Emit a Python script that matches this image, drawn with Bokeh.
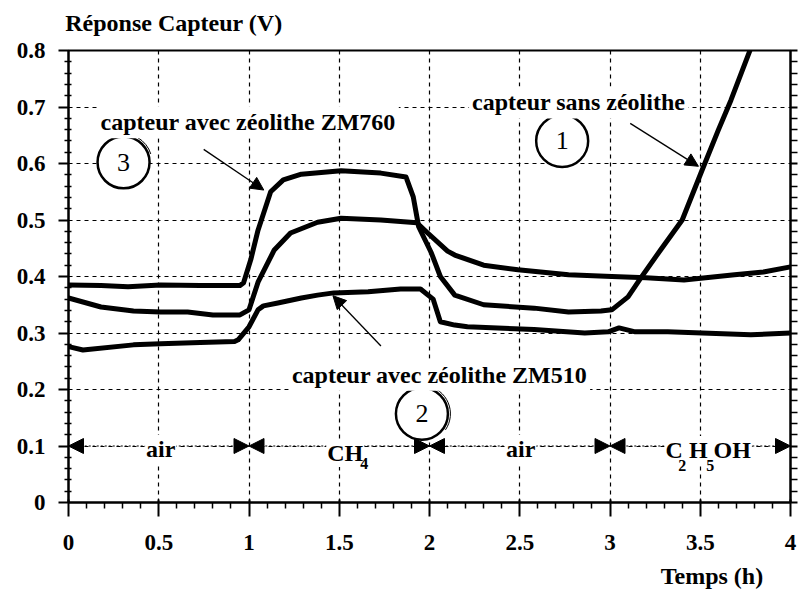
from bokeh.plotting import figure
from bokeh.models import (Range1d, LinearAxis, FixedTicker, Label,
                          ColumnDataSource, Arrow, NormalHead)
from bokeh.core.properties import value
from bokeh.embed import file_html
from bokeh.resources import INLINE

FONT = "Liberation Serif"

# ---------------- data ----------------
# top curve before CH4 (ZM760), then rising with ethanol
time_zm760 = [0, 0.18, 0.33, 0.51, 0.73, 0.95, 0.97, 1.01, 1.05, 1.12, 1.19, 1.29, 1.51,
              1.73, 1.87, 1.91, 1.94, 2.01, 2.06, 2.14, 2.30, 2.58, 2.77, 2.95, 3.01,
              3.10, 3.17, 3.28, 3.40, 3.51, 3.60, 3.67, 3.78]
resp_zm760 = [0.385, 0.384, 0.382, 0.385, 0.384, 0.384, 0.389, 0.43, 0.482, 0.55, 0.571,
              0.581, 0.587, 0.583, 0.576, 0.541, 0.488, 0.442, 0.40, 0.367, 0.35, 0.344,
              0.337, 0.339, 0.341, 0.364, 0.397, 0.447, 0.50, 0.588, 0.659, 0.712, 0.804]

# middle curve
time_mid = [0, 0.18, 0.36, 0.51, 0.66, 0.80, 0.95, 1.00, 1.05, 1.14, 1.23, 1.38, 1.51,
            1.73, 1.93, 1.99, 2.10, 2.14, 2.30, 2.49, 2.77, 3.01, 3.20, 3.41, 3.69, 3.85, 4.0]
resp_mid = [0.362, 0.346, 0.339, 0.337, 0.337, 0.332, 0.332, 0.341, 0.39, 0.447, 0.477,
            0.496, 0.503, 0.50, 0.495, 0.477, 0.445, 0.438, 0.42, 0.412, 0.403, 0.40,
            0.398, 0.394, 0.403, 0.408, 0.417]

# bottom curve : capteur avec zeolithe ZM510
time_zm510 = [0, 0.08, 0.36, 0.51, 0.73, 0.92, 0.94, 1.00, 1.05, 1.08, 1.16, 1.29, 1.38,
              1.47, 1.66, 1.84, 1.95, 2.02, 2.06, 2.14, 2.21, 2.58, 2.86, 2.99, 3.05,
              3.14, 3.32, 3.51, 3.78, 4.0]
resp_zm510 = [0.276, 0.27, 0.279, 0.281, 0.283, 0.285, 0.288, 0.311, 0.341, 0.348, 0.353,
              0.362, 0.367, 0.371, 0.373, 0.378, 0.378, 0.36, 0.32, 0.314, 0.311, 0.306,
              0.30, 0.302, 0.309, 0.302, 0.302, 0.30, 0.297, 0.30]

x_ticks = [0, 0.5, 1, 1.5, 2, 2.5, 3, 3.5, 4]
x_tick_labels = ["0", "0.5", "1", "1.5", "2", "2.5", "3", "3.5", "4"]
x_minor_ticks = [0.1, 0.2, 0.3, 0.4, 0.6, 0.7, 0.8, 0.9, 1.1, 1.2, 1.3, 1.4, 1.6, 1.7,
                 1.8, 1.9, 2.1, 2.2, 2.3, 2.4, 2.6, 2.7, 2.8, 2.9, 3.1, 3.2, 3.3, 3.4,
                 3.6, 3.7, 3.8, 3.9]
y_ticks = [0, 0.1, 0.2, 0.3, 0.4, 0.5, 0.6, 0.7, 0.8]
y_tick_labels = ["0", "0.1", "0.2", "0.3", "0.4", "0.5", "0.6", "0.7", "0.8"]
y_minor_ticks = [round(0.02 * i, 2) for i in range(41) if i % 5]

y_title = "Réponse Capteur (V)"
x_title = "Temps (h)"

phase_bounds = [0, 1, 2, 3, 4]
phase_level = 0.1

circle_numbers = ["3", "1", "2"]
circle_x = [0.305, 2.735, 1.958]
circle_y = [0.602, 0.64, 0.157]

# ---------------- figure ----------------
p = figure(width=798, height=591, x_range=Range1d(0, 4), y_range=Range1d(0, 0.8),
           output_backend="svg", toolbar_location=None,
           min_border_left=68, min_border_right=8, min_border_top=50,
           min_border_bottom=88)
p.background_fill_color = "white"
p.border_fill_color = "white"
p.outline_line_color = "black"
p.outline_line_width = 2

for g, t in ((p.xgrid, x_ticks), (p.ygrid, y_ticks)):
    g.ticker = FixedTicker(ticks=t)
    g.grid_line_color = "black"
    g.grid_line_dash = "4 4"
    g.grid_line_width = 1.2

blank_y = {t: "" for t in y_ticks}

xa = p.xaxis[0]
xa.ticker = FixedTicker(ticks=x_ticks, minor_ticks=x_minor_ticks)
xa.axis_line_width = 2
xa.major_tick_out = 14
xa.major_tick_in = 3
xa.minor_tick_out = 6
xa.minor_tick_in = 0
xa.major_tick_line_width = 2
xa.minor_tick_line_width = 1.5
xa.major_tick_line_color = "black"
xa.minor_tick_line_color = "black"
xa.major_label_overrides = dict(zip(x_ticks, x_tick_labels))
xa.major_label_standoff = 18
xa.major_label_text_font = FONT
xa.major_label_text_font_style = "bold"
xa.major_label_text_font_size = "23px"
xa.major_label_text_color = "black"

ya = p.yaxis[0]
ya.ticker = FixedTicker(ticks=y_ticks, minor_ticks=y_minor_ticks)
ya.axis_line_width = 2
ya.major_tick_out = 10
ya.major_tick_in = 0
ya.minor_tick_out = 4
ya.minor_tick_in = 3
ya.major_tick_line_width = 2
ya.minor_tick_line_width = 1.5
ya.major_label_overrides = dict(zip(y_ticks, y_tick_labels))
ya.major_label_text_font = FONT
ya.major_label_text_font_style = "bold"
ya.major_label_text_font_size = "23px"
ya.major_label_text_color = "black"
ya.major_label_standoff = 13

ra = LinearAxis(ticker=FixedTicker(ticks=y_ticks, minor_ticks=y_minor_ticks),
                axis_line_width=2, major_tick_out=7, major_tick_in=0,
                minor_tick_out=7, minor_tick_in=0, major_tick_line_width=2,
                minor_tick_line_width=1.5, major_label_overrides=blank_y,
                major_label_standoff=0)
p.add_layout(ra, "right")


# axis titles, carried by tick-less axes so they stay outside the frame
def title_axis(pos, text, standoff):
    return LinearAxis(ticker=FixedTicker(ticks=[pos], minor_ticks=[]),
                      major_label_overrides={pos: text},
                      axis_line_color=None, major_tick_line_color=None,
                      minor_tick_line_color=None, major_tick_out=0, major_tick_in=0,
                      minor_tick_out=0, minor_tick_in=0, major_label_standoff=standoff,
                      major_label_text_font=FONT, major_label_text_font_style="bold",
                      major_label_text_font_size="24px", major_label_text_color="black")


p.add_layout(title_axis(0.584, y_title, 15), "above")
p.add_layout(title_axis(3.565, x_title, 10), "below")

# ---------------- curves ----------------
for t, r in ((time_zm760, resp_zm760), (time_mid, resp_mid), (time_zm510, resp_zm510)):
    p.line(t, r, line_width=5, line_color="black", line_join="round", line_cap="round")

# ---------------- gas phase arrows ----------------
mids = [(a + b) / 2 for a, b in zip(phase_bounds[:-1], phase_bounds[1:])]
xs0, xs1 = [], []
for i, m in enumerate(mids):
    xs0 += [m, m]
    xs1 += [phase_bounds[i], phase_bounds[i + 1]]
p.add_layout(Arrow(source=ColumnDataSource(dict(x0=xs0, x1=xs1,
                                                y0=[phase_level] * len(xs0),
                                                y1=[phase_level] * len(xs0))),
                   x_start="x0", y_start="y0", x_end="x1", y_end="y1",
                   line_width=1.2, line_dash="2 2", line_color="black",
                   end=NormalHead(size=15, fill_color="black", line_color="black")))


def lab(x, y, text, size="24px", style="bold", align="left", dx=0, dy=0, bg=None, pad=0):
    kw = dict(x=x, y=y, text=text, x_offset=dx, y_offset=dy, text_align=align,
              text_baseline="alphabetic", text_font=FONT, text_font_style=style,
              text_font_size=size, text_color="black")
    if bg:
        kw.update(background_fill_color=bg, padding=pad)
    p.add_layout(Label(**kw))


# phase labels
lab(0.5, phase_level, "air", align="center", dx=2, dy=-3, bg="white", pad=1)
lab(1.5, phase_level, "CH", align="center", dx=6, dy=-7, bg="white", pad=1)
lab(1.5, phase_level, "4", size="16px", dx=21, dy=-17)
lab(2.5, phase_level, "air", align="center", dx=1, dy=-3, bg="white", pad=1)
lab(3.5, phase_level, "C H OH", align="center", dx=8, dy=-4, bg="white", pad=1)
lab(3.5, phase_level, "2", size="16px", dx=-22, dy=-19)
lab(3.5, phase_level, "5", size="16px", dx=6, dy=-19)

# ---------------- annotations ----------------
p.add_layout(Arrow(source=ColumnDataSource(dict(x0=[0.749, 3.112, 1.731],
                                                y0=[0.625, 0.671, 0.277],
                                                x1=[1.082, 3.49, 1.465],
                                                y1=[0.553, 0.595, 0.366])),
                   x_start="x0", y_start="y0", x_end="x1", y_end="y1",
                   line_width=1.3, line_color="black",
                   end=NormalHead(size=13, fill_color="black", line_color="black")))

lab(0.161, 0.673, "capteur avec zéolithe ZM760", bg="white", pad=3)
lab(2.219, 0.708, "capteur sans zéolithe", bg="white", pad=3)
lab(1.221, 0.226, "capteur avec zéolithe ZM510", bg="white", pad=3)

# numbered circles
p.scatter(circle_x, circle_y, marker="circle", size=52, fill_color="white",
          line_color="black", line_width=2.5)
p.arc([circle_x[0], circle_x[2]], [circle_y[0], circle_y[2]], radius=28.5,
      radius_units="screen", start_angle=[0.3, -0.6], end_angle=[1.8, 1.4],
      line_color="black", line_width=1)
p.text(circle_x, circle_y, text=circle_numbers, text_align="center",
       text_baseline="middle", text_font=value(FONT), text_font_size="26px",
       text_color="black")

open("out.html", "w").write(file_html(p, INLINE))
